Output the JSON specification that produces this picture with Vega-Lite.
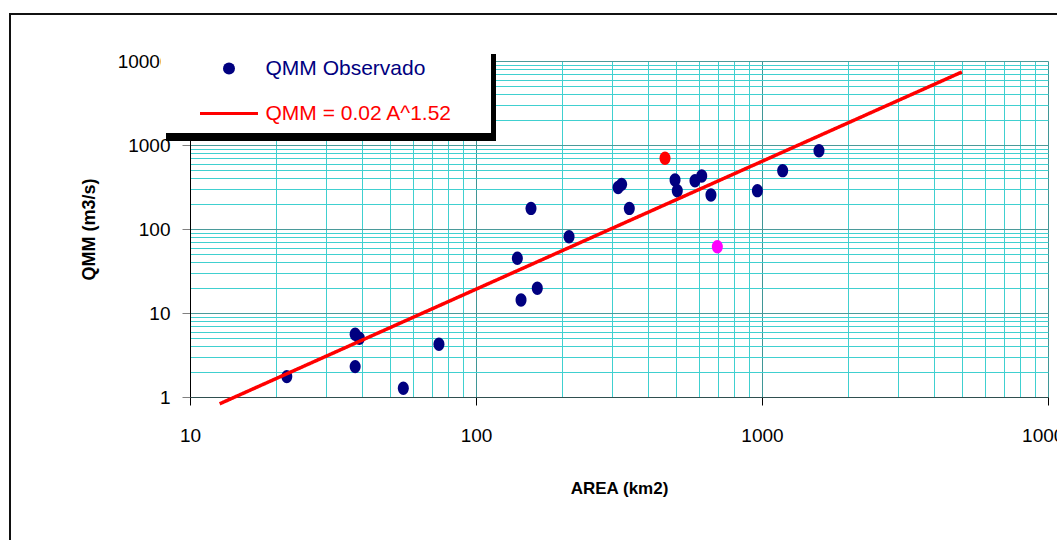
{
  "$schema": "https://vega.github.io/schema/vega-lite/v6.json",
  "width": 1055,
  "height": 534,
  "autosize": {"type": "none"},
  "padding": {"left": 10, "top": 14, "right": -8, "bottom": -8},
  "background": "white",
  "config": {
    "view": {"stroke": "#111111", "strokeWidth": 2, "fill": "white"},
    "font": "Liberation Sans",
    "axis": {"labelFont": "Liberation Sans", "titleFont": "Liberation Sans"},
    "legend": {"labelFont": "Liberation Sans", "titleFont": "Liberation Sans"}
  },
  "resolve": {"axis": {"x": "independent"}},
  "data": {
    "values": [
      {"area": 21.8, "qmm": 1.75, "series": "QMM Observado", "grupo": "azul"},
      {"area": 37.8, "qmm": 5.6, "series": "QMM Observado", "grupo": "azul"},
      {"area": 39.1, "qmm": 5.0, "series": "QMM Observado", "grupo": "azul"},
      {"area": 37.8, "qmm": 2.3, "series": "QMM Observado", "grupo": "azul"},
      {"area": 55.7, "qmm": 1.27, "series": "QMM Observado", "grupo": "azul"},
      {"area": 74.2, "qmm": 4.24, "series": "QMM Observado", "grupo": "azul"},
      {"area": 139.5, "qmm": 44.8, "series": "QMM Observado", "grupo": "azul"},
      {"area": 143.7, "qmm": 14.3, "series": "QMM Observado", "grupo": "azul"},
      {"area": 155.7, "qmm": 176, "series": "QMM Observado", "grupo": "azul"},
      {"area": 163.8, "qmm": 19.7, "series": "QMM Observado", "grupo": "azul"},
      {"area": 211.5, "qmm": 81, "series": "QMM Observado", "grupo": "azul"},
      {"area": 314, "qmm": 312, "series": "QMM Observado", "grupo": "azul"},
      {"area": 323, "qmm": 340, "series": "QMM Observado", "grupo": "azul"},
      {"area": 343.6, "qmm": 176, "series": "QMM Observado", "grupo": "azul"},
      {"area": 496.5, "qmm": 383, "series": "QMM Observado", "grupo": "azul"},
      {"area": 505.6, "qmm": 286, "series": "QMM Observado", "grupo": "azul"},
      {"area": 583, "qmm": 376, "series": "QMM Observado", "grupo": "azul"},
      {"area": 615.5, "qmm": 428, "series": "QMM Observado", "grupo": "azul"},
      {"area": 663, "qmm": 254, "series": "QMM Observado", "grupo": "azul"},
      {"area": 963.5, "qmm": 286, "series": "QMM Observado", "grupo": "azul"},
      {"area": 1181, "qmm": 495, "series": "QMM Observado", "grupo": "azul"},
      {"area": 1582, "qmm": 855, "series": "QMM Observado", "grupo": "azul"},
      {"area": 458, "qmm": 695, "series": "QMM Observado", "grupo": "rojo"},
      {"area": 698, "qmm": 61.5, "series": "QMM Observado", "grupo": "magenta"},
      {"area": 12.7, "qmm": 0.83, "series": "QMM = 0.02 A^1.52", "grupo": "ajuste"},
      {"area": 5000, "qmm": 7400, "series": "QMM = 0.02 A^1.52", "grupo": "ajuste"}
    ]
  },
  "layer": [
    {
      "transform": [{"filter": "datum.series === 'QMM Observado'"}],
      "mark": {
        "type": "point",
        "filled": true,
        "shape": "M0,-1C0.45,-1,0.82,-0.55,0.82,0C0.82,0.55,0.45,1,0,1C-0.45,1,-0.82,0.55,-0.82,0C-0.82,-0.55,-0.45,-1,0,-1Z",
        "size": 180,
        "strokeWidth": 0
      },
      "encoding": {
        "x": {
          "field": "area",
          "type": "quantitative",
          "scale": {"type": "log", "domain": [10, 10000], "range": [180, 1038], "nice": false},
          "axis": {
            "orient": "bottom",
            "offset": -151,
            "values": [10, 100, 1000, 10000],
            "format": "d",
            "labelFlush": false,
            "labelOverlap": false,
            "labelBound": false,
            "labelFontSize": 19,
            "labelColor": "#000000",
            "labelPadding": 21,
            "tickSize": 8,
            "tickColor": "#000000",
            "grid": false,
            "domainColor": "#2f4f4f",
            "domainWidth": 1,
            "title": "AREA (km2)",
            "titleFontSize": 17,
            "titleFontWeight": "bold",
            "titleColor": "#000000",
            "titlePadding": 35
          }
        },
        "y": {
          "field": "qmm",
          "type": "quantitative",
          "scale": {"type": "log", "domain": [1, 10000], "range": [383, 47], "nice": false},
          "axis": {
            "orient": "left",
            "offset": -180,
            "values": [1, 2, 3, 4, 5, 6, 7, 8, 9, 10, 20, 30, 40, 50, 60, 70, 80, 90, 100, 200, 300, 400, 500, 600, 700, 800, 900, 1000, 2000, 3000, 4000, 5000, 6000, 7000, 8000, 9000, 10000],
            "format": "d",
            "labelExpr": "indexof([1, 10, 100, 1000, 10000], datum.value) >= 0 ? datum.label : ''",
            "labelOverlap": false,
            "labelBound": false,
            "labelFlush": false,
            "labelFontSize": 19,
            "labelColor": "#000000",
            "labelPadding": 12,
            "tickSize": 8,
            "tickColor": "#808080",
            "tickOpacity": {"condition": {"test": "indexof([1, 10, 100, 1000, 10000], datum.value) >= 0", "value": 1}, "value": 0},
            "grid": true,
            "gridColor": {"condition": {"test": "indexof([1, 10, 100, 1000, 10000], datum.value) >= 0", "value": "#4a9a9a"}, "value": "#40d0d0"},
            "gridWidth": 1,
            "gridOpacity": 1,
            "domainColor": "#000000",
            "domainWidth": 1,
            "title": "QMM (m3/s)",
            "titleFontSize": 18,
            "titleFontWeight": "bold",
            "titleColor": "#000000",
            "titlePadding": 19
          }
        },
        "color": {
          "field": "grupo",
          "type": "nominal",
          "scale": {"domain": ["azul", "rojo", "magenta"], "range": ["#000080", "#FF0000", "#FF00FF"]},
          "legend": null
        },
        "opacity": {
          "field": "series",
          "type": "nominal",
          "scale": {"domain": ["QMM = 0.02 A^1.52", "QMM Observado"], "range": [1, 1]},
          "legend": {
            "orient": "none",
            "legendX": 156,
            "legendY": 40,
            "title": ".",
            "titleOrient": "right",
            "titleFontSize": 10,
            "titlePadding": 27,
            "titleColor": "#000000",
            "fillColor": "#000000",
            "padding": 9,
            "rowPadding": 21,
            "symbolSize": 144,
            "symbolStrokeWidth": 3,
            "symbolOffset": 48.5,
            "symbolFillColor": "#000000",
            "symbolStrokeColor": "#000000",
            "labelOffset": 26,
            "labelFontSize": 21,
            "labelLimit": 500,
            "labelColor": "#000000"
          }
        }
      }
    },
    {
      "transform": [{"filter": "datum.series !== 'QMM Observado'"}],
      "mark": {"type": "line", "color": "#FF0000", "strokeWidth": 3.5},
      "encoding": {
        "x": {
          "field": "area",
          "type": "quantitative",
          "axis": {
            "orient": "top",
            "offset": 0,
            "values": [10, 20, 30, 40, 50, 60, 70, 80, 90, 100, 200, 300, 400, 500, 600, 700, 800, 900, 1000, 2000, 3000, 4000, 5000, 6000, 7000, 8000, 9000, 10000],
            "labels": false,
            "ticks": false,
            "domain": false,
            "title": null,
            "grid": true,
            "gridColor": {"condition": {"test": "indexof([10, 100, 1000, 10000], datum.value) >= 0", "value": "#3f9696"}, "value": "#40d0d0"},
            "gridWidth": 1,
            "gridOpacity": 1
          }
        },
        "y": {"field": "qmm", "type": "quantitative"},
        "strokeDash": {
          "field": "series",
          "type": "nominal",
          "scale": {"domain": ["QMM Observado", "QMM = 0.02 A^1.52"], "range": [[1, 0], [1, 0]]},
          "legend": {
            "orient": "none",
            "legendX": 151,
            "legendY": 35,
            "title": ".",
            "titleOrient": "right",
            "titleFontSize": 10,
            "titlePadding": 27,
            "titleColor": "#FFFFFF",
            "fillColor": "#FFFFFF",
            "padding": 9,
            "rowPadding": 21,
            "symbolSize": 144,
            "symbolStrokeWidth": 3,
            "symbolOffset": 48.5,
            "symbolOpacity": 1,
            "symbolType": {"expr": "datum.value === 'QMM Observado' ? 'circle' : 'M-4.83,0L4.83,0'"},
            "symbolFillColor": {"expr": "datum.value === 'QMM Observado' ? '#000080' : 'transparent'"},
            "symbolStrokeColor": {"expr": "datum.value === 'QMM Observado' ? 'transparent' : '#FF0000'"},
            "labelColor": {"expr": "datum.value === 'QMM Observado' ? '#000080' : '#FF0000'"},
            "labelOffset": 26,
            "labelFontSize": 21,
            "labelLimit": 500
          }
        }
      }
    }
  ]
}
